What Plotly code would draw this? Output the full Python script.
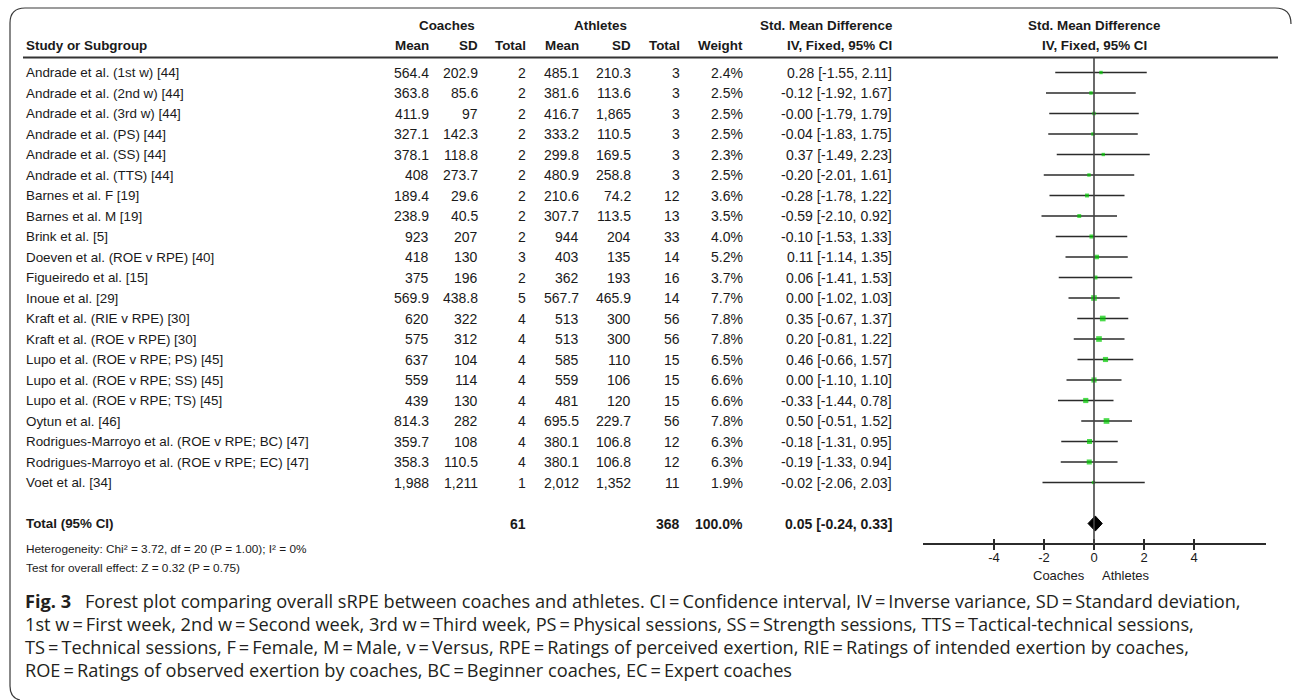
import plotly.graph_objects as go

# ---- study data -------------------------------------------------------
studies = [
    "Andrade et al. (1st w) [44]",
    "Andrade et al. (2nd w) [44]",
    "Andrade et al. (3rd w) [44]",
    "Andrade et al. (PS) [44]",
    "Andrade et al. (SS) [44]",
    "Andrade et al. (TTS) [44]",
    "Barnes et al. F [19]",
    "Barnes et al. M [19]",
    "Brink et al. [5]",
    "Doeven et al. (ROE v RPE) [40]",
    "Figueiredo et al. [15]",
    "Inoue et al. [29]",
    "Kraft et al. (RIE v RPE) [30]",
    "Kraft et al. (ROE v RPE) [30]",
    "Lupo et al. (ROE v RPE; PS) [45]",
    "Lupo et al. (ROE v RPE; SS) [45]",
    "Lupo et al. (ROE v RPE; TS) [45]",
    "Oytun et al. [46]",
    "Rodrigues-Marroyo et al. (ROE v RPE; BC) [47]",
    "Rodrigues-Marroyo et al. (ROE v RPE; EC) [47]",
    "Voet et al. [34]",
]
coach_mean = [564.4, 363.8, 411.9, 327.1, 378.1, 408, 189.4, 238.9, 923, 418, 375,
              569.9, 620, 575, 637, 559, 439, 814.3, 359.7, 358.3, 1988]
coach_sd = [202.9, 85.6, 97, 142.3, 118.8, 273.7, 29.6, 40.5, 207, 130, 196,
            438.8, 322, 312, 104, 114, 130, 282, 108, 110.5, 1211]
coach_n = [2, 2, 2, 2, 2, 2, 2, 2, 2, 3, 2, 5, 4, 4, 4, 4, 4, 4, 4, 4, 1]
ath_mean = [485.1, 381.6, 416.7, 333.2, 299.8, 480.9, 210.6, 307.7, 944, 403, 362,
            567.7, 513, 513, 585, 559, 481, 695.5, 380.1, 380.1, 2012]
ath_sd = [210.3, 113.6, 1865, 110.5, 169.5, 258.8, 74.2, 113.5, 204, 135, 193,
          465.9, 300, 300, 110, 106, 120, 229.7, 106.8, 106.8, 1352]
ath_n = [3, 3, 3, 3, 3, 3, 12, 13, 33, 14, 16, 14, 56, 56, 15, 15, 15, 56, 12, 12, 11]
weight = [2.4, 2.5, 2.5, 2.5, 2.3, 2.5, 3.6, 3.5, 4.0, 5.2, 3.7, 7.7, 7.8, 7.8,
          6.5, 6.6, 6.6, 7.8, 6.3, 6.3, 1.9]
smd = [0.28, -0.12, -0.0, -0.04, 0.37, -0.20, -0.28, -0.59, -0.10, 0.11, 0.06,
       0.00, 0.35, 0.20, 0.46, 0.00, -0.33, 0.50, -0.18, -0.19, -0.02]
ci_lo = [-1.55, -1.92, -1.79, -1.83, -1.49, -2.01, -1.78, -2.10, -1.53, -1.14, -1.41,
         -1.02, -0.67, -0.81, -0.66, -1.10, -1.44, -0.51, -1.31, -1.33, -2.06]
ci_hi = [2.11, 1.67, 1.79, 1.75, 2.23, 1.61, 1.22, 0.92, 1.33, 1.35, 1.53,
         1.03, 1.37, 1.22, 1.57, 1.10, 0.78, 1.52, 0.95, 0.94, 2.03]

total_coach_n = 61
total_ath_n = 368
total_weight = 100.0
total_smd = 0.05
total_lo = -0.24
total_hi = 0.33

heterogeneity = "Heterogeneity: Chi² = 3.72, df = 20 (P = 1.00); I² = 0%"
overall_test = "Test for overall effect: Z = 0.32 (P = 0.75)"

x_ticks = [-4, -2, 0, 2, 4]
x_tick_text = ["-4", "-2", "0", "2", "4"]

EQ = "\u2009=\u2009"
caption_lines = [
    f"<b>Fig. 3</b>\u2002 Forest plot comparing overall sRPE between coaches and athletes. "
    f"CI{EQ}Confidence interval, IV{EQ}Inverse variance, SD{EQ}Standard deviation,",
    f"1st w{EQ}First week, 2nd w{EQ}Second week, 3rd w{EQ}Third week, "
    f"PS{EQ}Physical sessions, SS{EQ}Strength sessions, TTS{EQ}Tactical-technical sessions,",
    f"TS{EQ}Technical sessions, F{EQ}Female, M{EQ}Male, v{EQ}Versus, "
    f"RPE{EQ}Ratings of perceived exertion, RIE{EQ}Ratings of intended exertion by coaches,",
    f"ROE{EQ}Ratings of observed exertion by coaches, BC{EQ}Beginner coaches, EC{EQ}Expert coaches",
]

# ---- page geometry ----------------------------------------------------
W, H = 1292, 700
ROW0, ROW_H = 72.5, 20.5          # pixel centre of first study row, row pitch
TOTAL_ROW = len(studies) + 1      # one blank row before the total
AXIS_ROW = TOTAL_ROW + 1

def px_x(p):
    return p / W

def px_y(p):
    return 1 - p / H

def row_of(p):
    return (p - ROW0) / ROW_H

TABLE_FONT = "Liberation Sans, Arial, sans-serif"
CAPTION_FONT = "Open Sans, Lato, sans-serif"
FS_TXT = 13.4      # study names and headings
FS_NUM = 14.0      # numeric columns
FS_NOTE = 11.8     # heterogeneity / overall effect lines
TXT = "#1a1a1a"
HEAD1, HEAD2, RULE = row_of(25), row_of(45), row_of(57.5)

# right edges of numeric columns (pixels)
COLS = {"cm": 431, "csd": 480, "cn": 528, "am": 581, "asd": 633, "an": 682,
        "w": 745, "ci": 894}


def num(v):
    return f"{v:,.0f}" if float(v).is_integer() else f"{v:,.1f}"


def ci_text(e, lo, hi):
    return f"{e:.2f} [{lo:.2f}, {hi:.2f}]"


fig = go.Figure()

# ---- forest plot marks ------------------------------------------------
rows = list(range(len(studies)))
for i in rows:
    fig.add_trace(go.Scatter(
        x=[ci_lo[i], ci_hi[i]], y=[i, i], mode="lines",
        line=dict(color="#2b2b2b", width=1.6), hoverinfo="skip", showlegend=False))

fig.add_trace(go.Scatter(
    x=smd, y=rows, mode="markers",
    marker=dict(symbol="square", color="#00cc00",
                size=[2.4 + 0.42 * w for w in weight], line=dict(width=0)),
    showlegend=False, hoverinfo="skip"))

# pooled estimate diamond
half_h = 0.37
fig.add_trace(go.Scatter(
    x=[total_lo, total_smd, total_hi, total_smd, total_lo],
    y=[TOTAL_ROW, TOTAL_ROW - half_h, TOTAL_ROW, TOTAL_ROW + half_h, TOTAL_ROW],
    mode="lines", fill="toself", fillcolor="black",
    line=dict(color="black", width=1), showlegend=False, hoverinfo="skip"))

# second axis carries the upward half of each tick
fig.add_trace(go.Scatter(x=[0], y=[0], xaxis="x2", mode="markers",
                         marker=dict(opacity=0), showlegend=False, hoverinfo="skip"))

# ---- table text -------------------------------------------------------
ann = []

def add_text(text, x, y, anchor="right", bold=False, size=FS_TXT, xref="paper", xshift=0):
    ann.append(dict(
        text=f"<b>{text}</b>" if bold else text, x=x, y=y, xref=xref, yref="y",
        xanchor=anchor, yanchor="middle", showarrow=False, xshift=xshift,
        font=dict(family=TABLE_FONT, size=size, color=TXT)))

# headers
add_text("Coaches", px_x(477), HEAD1, bold=True)
add_text("Athletes", px_x(629), HEAD1, bold=True)
add_text("Std. Mean Difference", px_x(COLS["ci"]), HEAD1, bold=True)
add_text("Std. Mean Difference", 0, HEAD1, anchor="center", bold=True, xref="x")
add_text("Study or Subgroup", px_x(24), HEAD2, anchor="left", bold=True)
for key, label in [("cm", "Mean"), ("csd", "SD"), ("cn", "Total"), ("am", "Mean"),
                   ("asd", "SD"), ("an", "Total"), ("w", "Weight"), ("ci", "IV, Fixed, 95% CI")]:
    add_text(label, px_x(COLS[key]), HEAD2, bold=True)
add_text("IV, Fixed, 95% CI", 0, HEAD2, anchor="center", bold=True, xref="x")

# study rows
for i, name in enumerate(studies):
    add_text(name, px_x(24), i, anchor="left")
    add_text(num(coach_mean[i]), px_x(COLS["cm"]), i, size=FS_NUM)
    add_text(num(coach_sd[i]), px_x(COLS["csd"]), i, size=FS_NUM)
    add_text(str(coach_n[i]), px_x(COLS["cn"]), i, size=FS_NUM)
    add_text(num(ath_mean[i]), px_x(COLS["am"]), i, size=FS_NUM)
    add_text(num(ath_sd[i]), px_x(COLS["asd"]), i, size=FS_NUM)
    add_text(str(ath_n[i]), px_x(COLS["an"]), i, size=FS_NUM)
    add_text(f"{weight[i]:.1f}%", px_x(COLS["w"]), i, size=FS_NUM)
    add_text(ci_text(smd[i], ci_lo[i], ci_hi[i]), px_x(COLS["ci"]), i, size=FS_NUM)

# total row
add_text("Total (95% CI)", px_x(24), TOTAL_ROW, anchor="left", bold=True)
add_text(str(total_coach_n), px_x(COLS["cn"]), TOTAL_ROW, bold=True, size=FS_NUM)
add_text(str(total_ath_n), px_x(COLS["an"]), TOTAL_ROW, bold=True, size=FS_NUM)
add_text(f"{total_weight:.1f}%", px_x(COLS["w"]), TOTAL_ROW, bold=True, size=FS_NUM)
add_text(ci_text(total_smd, total_lo, total_hi), px_x(COLS["ci"]), TOTAL_ROW, bold=True,
         size=FS_NUM)

add_text(heterogeneity, px_x(24), row_of(548.5), anchor="left", size=FS_NOTE)
add_text(overall_test, px_x(24), row_of(567.5), anchor="left", size=FS_NOTE)

# favours labels under the scale
add_text("Coaches", 0, row_of(575), anchor="right", xref="x", xshift=-7, size=13)
add_text("Athletes", 0, row_of(575), anchor="left", xref="x", xshift=6, size=13)

# caption
for k, line in enumerate(caption_lines):
    ann.append(dict(
        text=line, x=px_x(23), y=px_y(601 + 23 * k), xref="paper", yref="paper",
        xanchor="left", yanchor="middle", showarrow=False,
        font=dict(family=CAPTION_FONT, size=18.2, color="#231f20")))

# ---- rules and frame --------------------------------------------------
shapes = [
    dict(type="line", xref="paper", yref="y", x0=px_x(23), x1=px_x(1278),
         y0=RULE, y1=RULE, line=dict(color="#333333", width=2)),
    dict(type="line", xref="x", yref="y", x0=0, x1=0, y0=RULE, y1=AXIS_ROW,
         line=dict(color="#444444", width=1.6)),
]
frame = (f"M {px_x(1291)},{px_y(24)} Q {px_x(1291)},{px_y(8)} {px_x(1275)},{px_y(8)} "
         f"L {px_x(25)},{px_y(8)} Q {px_x(10)},{px_y(8)} {px_x(10)},{px_y(23)} "
         f"L {px_x(10)},{px_y(686)} Q {px_x(10)},{px_y(698)} {px_x(20)},{px_y(700)}")
shapes.append(dict(type="path", xref="paper", yref="paper", path=frame,
                   line=dict(color="#3a3a3a", width=1.2)))

axis_pos = px_y(ROW0 + ROW_H * AXIS_ROW)
x_dom = [px_x(923), px_x(1266)]
x_rng = [-6.84, 6.88]

fig.update_layout(
    width=W, height=H, margin=dict(l=0, r=0, t=0, b=0),
    paper_bgcolor="white", plot_bgcolor="rgba(0,0,0,0)",
    annotations=ann, shapes=shapes,
    xaxis=dict(domain=x_dom, range=x_rng, anchor="free", position=axis_pos,
               showgrid=False, zeroline=False, showline=True, linecolor="#2b2b2b",
               linewidth=1.6, ticks="outside", ticklen=5, tickwidth=1.5,
               tickcolor="#2b2b2b", tickvals=x_ticks, ticktext=x_tick_text,
               ticklabelstandoff=-3,
               tickfont=dict(family=TABLE_FONT, size=13, color=TXT), fixedrange=True),
    xaxis2=dict(domain=x_dom, range=x_rng, anchor="free", position=axis_pos,
                overlaying="x", side="bottom", showgrid=False, zeroline=False,
                showline=False, ticks="inside", ticklen=5, tickwidth=1.5,
                tickcolor="#2b2b2b", tickvals=x_ticks, showticklabels=False,
                fixedrange=True),
    yaxis=dict(domain=[0, 1], range=[row_of(H), row_of(0)], visible=False,
               fixedrange=True),
    showlegend=False,
)

fig.write_html("out.html")
